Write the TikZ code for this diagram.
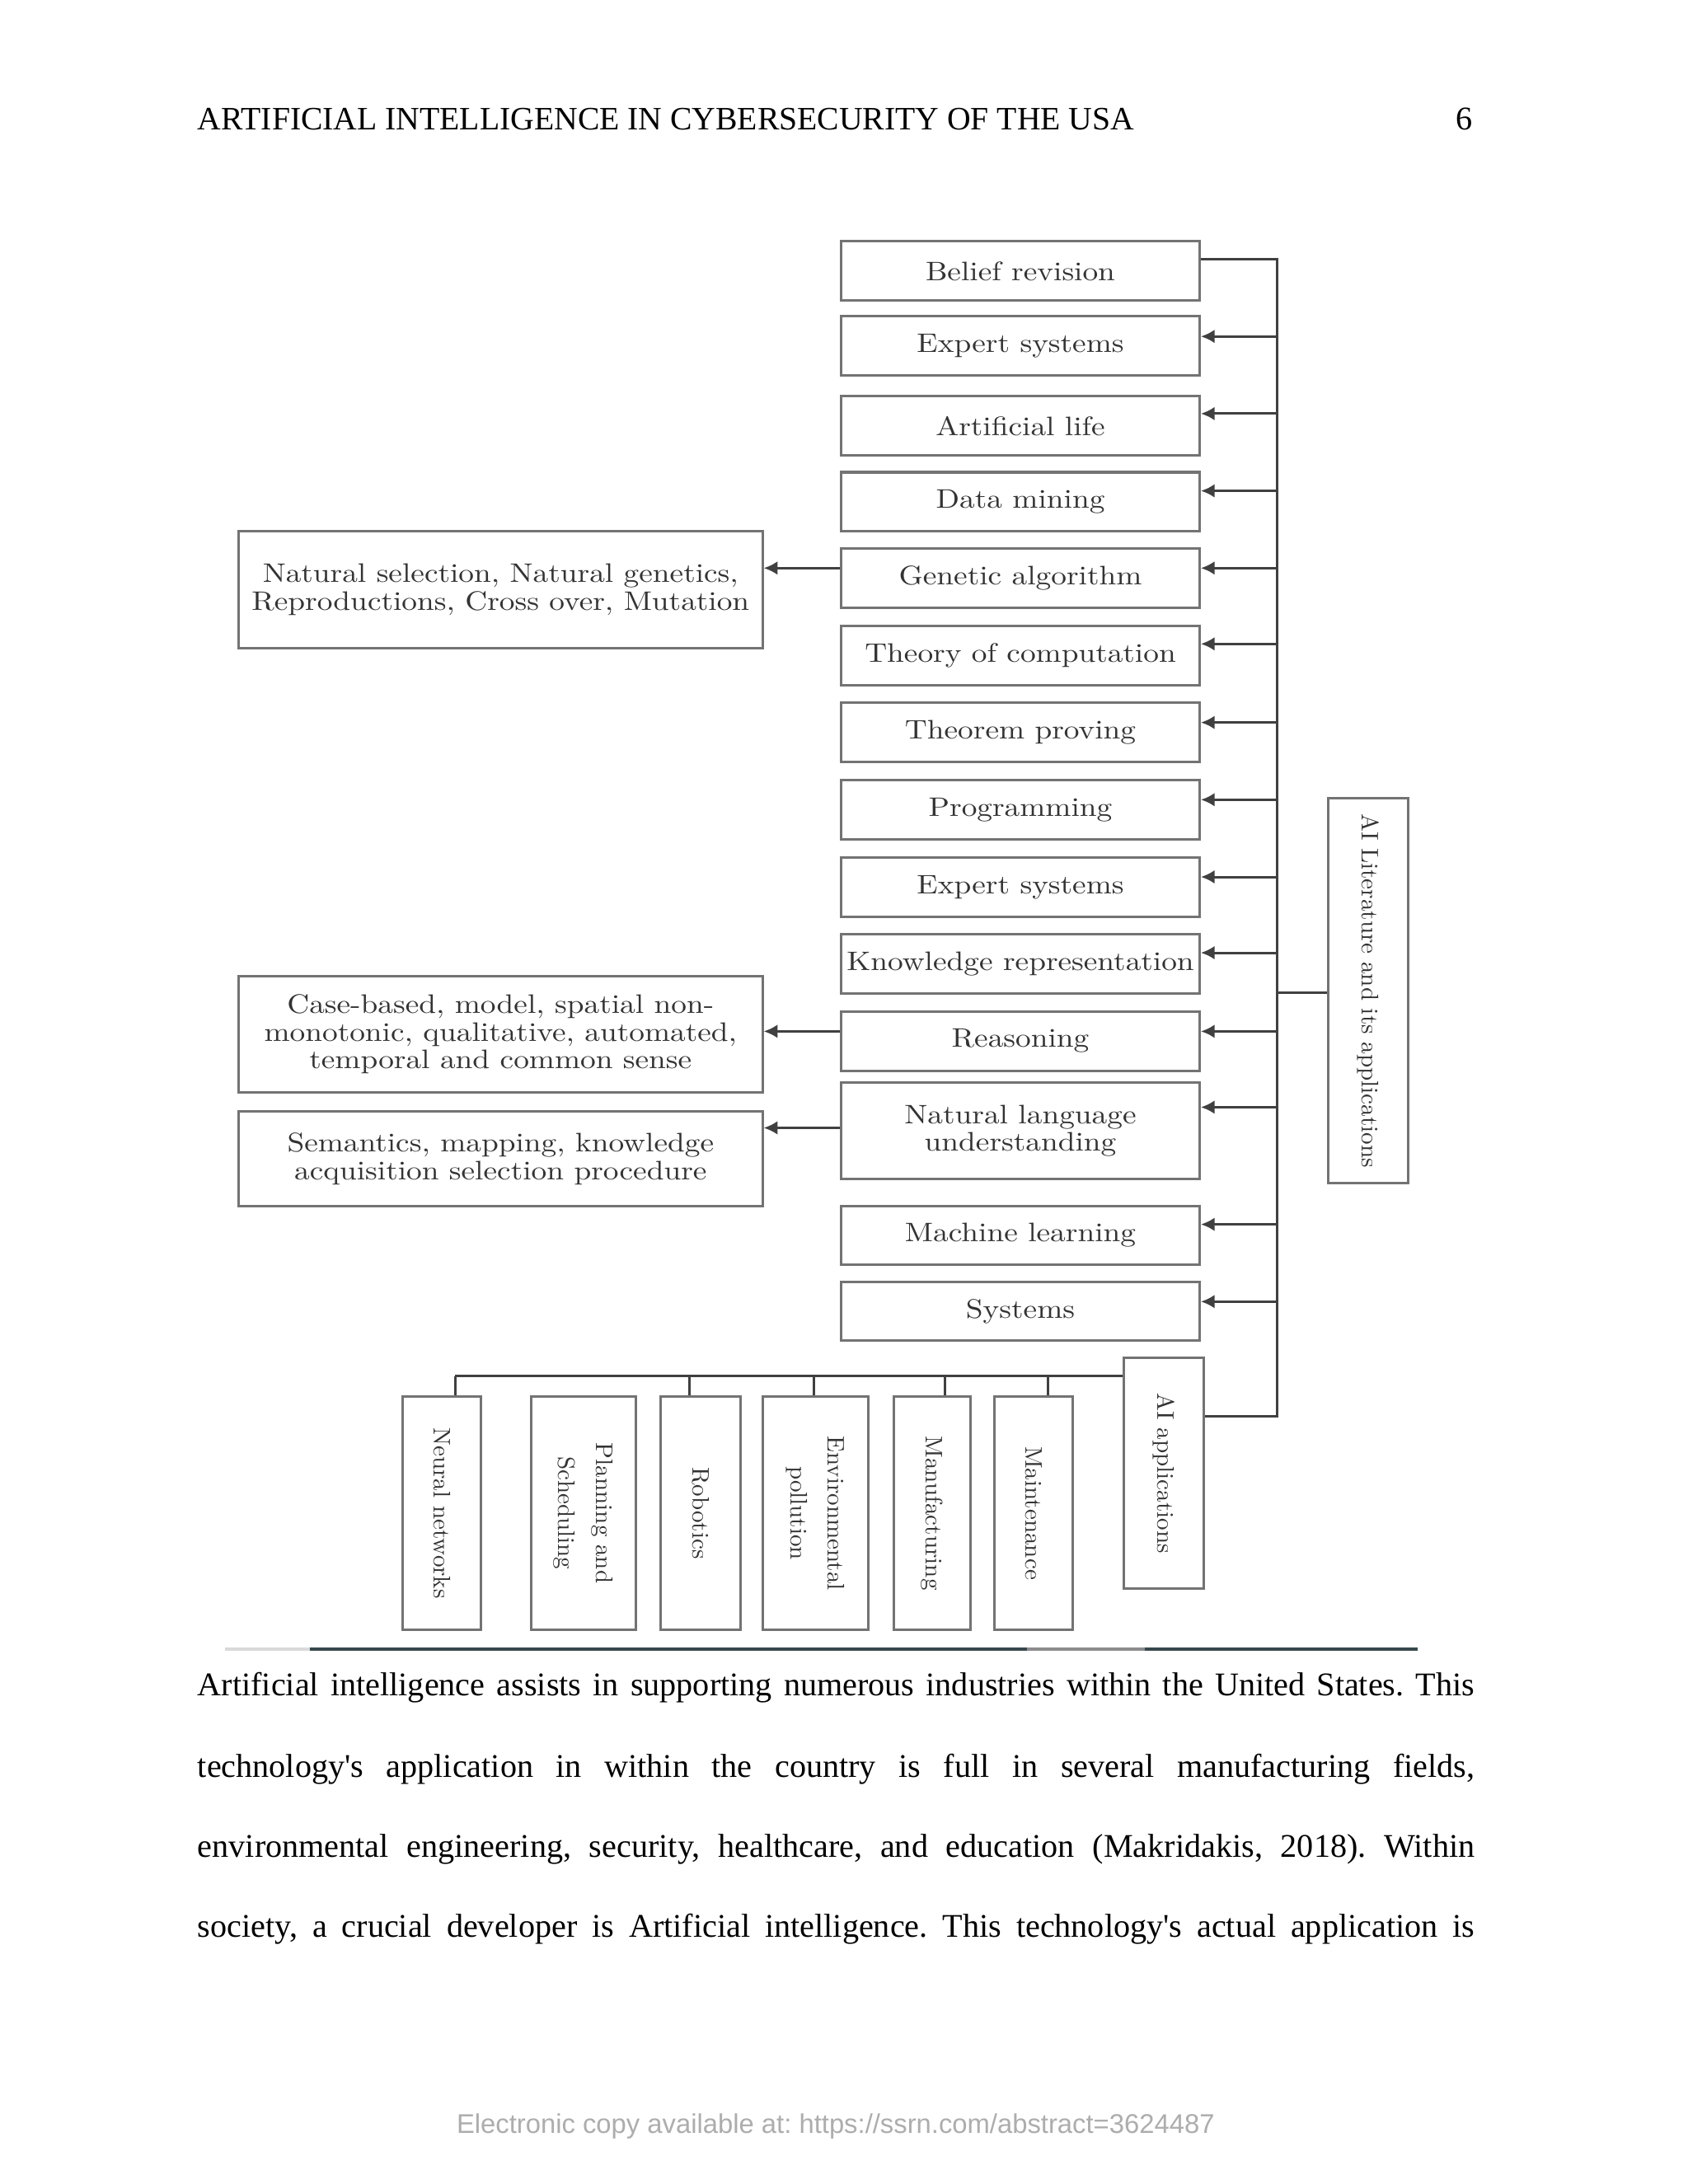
\documentclass[tikz,border=0pt]{standalone}
\usepackage{fontspec}
\newfontfamily\timesf{Liberation Serif}
\newfontfamily\arialf{Liberation Sans}
\newfontfamily\dg{lmroman10-regular.otf}[FakeStretch=1.15]
\newfontfamily\dv{lmroman10-regular.otf}
\usetikzlibrary{arrows.meta}
\definecolor{rulecol}{RGB}{55,72,78}
\frenchspacing
\begin{document}
\begin{tikzpicture}[x=0.5pt,y=-0.5pt,
  rbox/.style={draw=black!55,line width=0.9pt,minimum width=130pt,minimum height=21.5pt,inner sep=0pt,font=\dg\fontsize{9.7}{10}\selectfont,text=black!80},
  lbox/.style={draw=black!55,line width=0.9pt,minimum width=190pt,inner sep=0pt,align=center,font=\dg\fontsize{9.7}{10}\selectfont,text=black!80},
  vbox/.style={draw=black!55,line width=0.9pt,rotate=-90,inner sep=0pt,align=center,font=\dv\fontsize{8.7}{13.5}\selectfont,text=black!80},
  conn/.style={draw=black!75,line width=0.9pt},
  arr/.style={conn,-{Latex[length=5pt,width=5pt]}},
  bodyline/.style={anchor=base west,inner sep=0pt,font=\timesf\fontsize{12}{14}\selectfont}
]
\useasboundingbox (0,0) rectangle (1224,1584);
\fill[white] (0,0) rectangle (1224,1584);

% header
\node[anchor=base west,inner sep=0pt,font=\timesf\fontsize{11.85}{14}\selectfont] (hd) at (143,94) {ARTIFICIAL INTELLIGENCE IN CYBERSECURITY OF THE USA};
\node[anchor=base east,inner sep=0pt,font=\timesf\fontsize{12}{14}\selectfont] (pg) at (1068,94) {6};

% right column
\node[rbox] (br) at (740,196.5) {Belief revision};
\node[rbox] (es1) at (740,251) {Expert systems};
\node[rbox] (al) at (740,309) {Artificial life};
\node[rbox] (dm) at (740,364) {Data mining};
\node[rbox] (ga) at (740,419.5) {Genetic algorithm};
\node[rbox] (tc) at (740,475.5) {Theory of computation};
\node[rbox] (tp) at (740,531) {Theorem proving};
\node[rbox] (pr) at (740,587.5) {Programming};
\node[rbox] (es2) at (740,643.5) {Expert systems};
\node[rbox] (kr) at (740,699) {Knowledge representation};
\node[rbox] (re) at (740,755) {Reasoning};
\node[rbox,minimum height=35pt,align=center] (nlu) at (740,820) {Natural language\\understanding};
\node[rbox] (ml) at (740,896) {Machine learning};
\node[rbox] (sy) at (740,951) {Systems};

% left boxes
\node[lbox,minimum height=42.5pt] (ns) at (363,427.5) {Natural selection, Natural genetics,\\Reproductions, Cross over, Mutation};
\node[lbox,minimum height=42pt] (cb) at (363,750) {Case-based, model, spatial non-\\monotonic, qualitative, automated,\\temporal and common sense};
\node[lbox,minimum height=34.5pt] (se) at (363,840.5) {Semantics, mapping, knowledge\\acquisition selection procedure};

% vertical boxes
\node[vbox,minimum width=139.5pt,minimum height=29pt] (ail) at (992,718.5) {AI Literature and its applications};
\node[vbox,minimum width=83.5pt,minimum height=29pt] (aiapp) at (844,1068.5) {AI applications};
\node[vbox,minimum width=84.5pt,minimum height=28.5pt] (nn) at (320.5,1097.5) {Neural networks};
\node[vbox,minimum width=84.5pt,minimum height=38pt] (pl) at (423,1097.5) {Planning and\\Scheduling};
\node[vbox,minimum width=84.5pt,minimum height=29pt] (ro) at (508,1097.5) {Robotics};
\node[vbox,minimum width=84.5pt,minimum height=38.5pt] (en) at (591.5,1097.5) {Environmental\\pollution};
\node[vbox,minimum width=84.5pt,minimum height=28pt] (ma) at (676,1097.5) {Manufacturing};
\node[vbox,minimum width=84.5pt,minimum height=28.5pt] (mt) at (749.5,1097.5) {Maintenance};

% bus
\coordinate (btop) at (926,188);
\coordinate (bbot) at (926,1027);
\draw[conn] (br.east |- btop) -- (btop) -- (bbot) -- (bbot -| aiapp.north);
\foreach \n/\y in {es1/244,al/300,dm/356,ga/412,tc/467,tp/524,pr/580,es2/636,kr/691,re/748,nlu/803,ml/888,sy/944}{
  \coordinate (b-\n) at (926,\y);
  \draw[arr] (b-\n) -- (b-\n -| \n.east);
}
\coordinate (bail) at (926,720);
\draw[conn] (bail) -- (bail -| ail.south);

% left arrows
\draw[arr] (ga.west |- 0,412) -- (ns.east |- 0,412);
\draw[arr] (re.west |- 0,748) -- (cb.east |- 0,748);
\draw[arr] (nlu.west |- 0,818) -- (se.east |- 0,818);

% application tree
\coordinate (hl) at (330,998);
\draw[conn] (hl) -- (hl -| aiapp.south);
\draw[conn] (hl) -- (hl |- nn.west);
\foreach \n/\x in {ro/500,en/590,ma/685,mt/760}{
  \coordinate (t-\n) at (\x,998);
  \draw[conn] (t-\n) -- (t-\n |- \n.west);
}

% rule below figure
\draw[black!15,line width=1.2pt] (163,1196) -- (225,1196);
\draw[rulecol,line width=1.2pt] (225,1196) -- (745,1196);
\draw[black!45,line width=1.2pt] (745,1196) -- (830,1196);
\draw[rulecol,line width=1.2pt] (830,1196) -- (1028,1196);

% body text
\node[bodyline] (l1) at (143,1230) {\makebox[463pt][s]{Artificial intelligence assists in supporting numerous industries within the United States. This}};
\node[bodyline] (l2) at (143,1289) {\makebox[463pt][s]{technology's application in within the country is full in several manufacturing fields,}};
\node[bodyline] (l3) at (143,1347) {\makebox[463pt][s]{environmental engineering, security, healthcare, and education (Makridakis, 2018). Within}};
\node[bodyline] (l4) at (143,1405) {\makebox[463pt][s]{society, a crucial developer is Artificial intelligence. This technology's actual application is}};

% footer
\node[anchor=base,inner sep=0pt,font=\arialf\fontsize{9.8}{11}\selectfont,text=black!32] (ft) at (606,1547) {Electronic copy available at: https://ssrn.com/abstract=3624487};
\end{tikzpicture}
\end{document}
